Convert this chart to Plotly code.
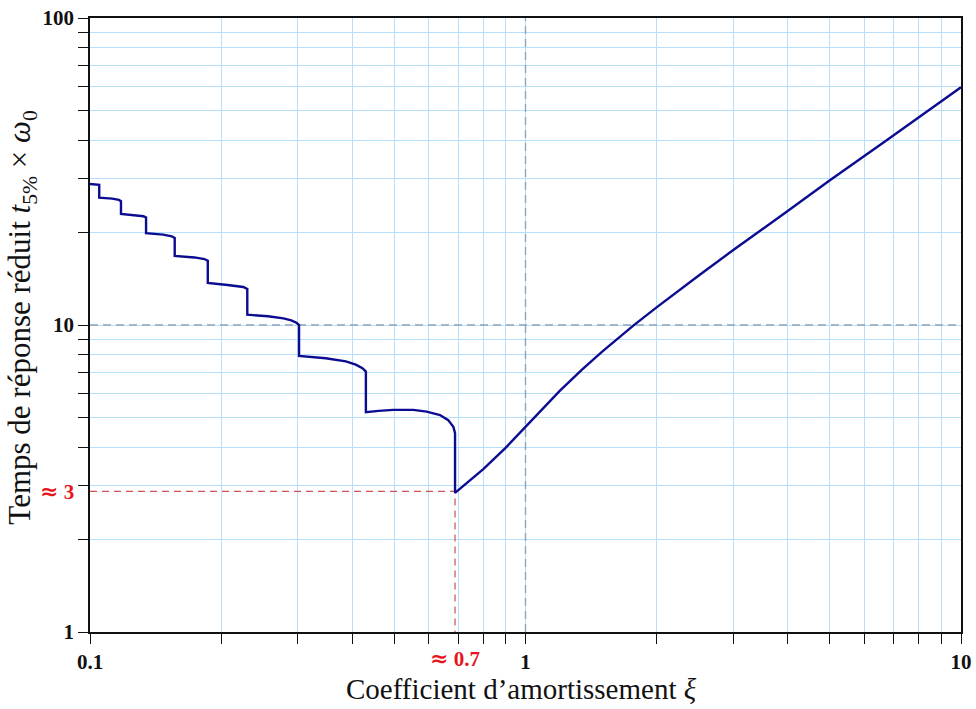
import math
import plotly.graph_objects as go

# Reduced 5 % response time of a second-order system vs damping ratio
XI = [0.1, 0.105,
      0.105, 0.1125, 0.1165, 0.1178,
      0.1178, 0.1276, 0.1327, 0.1345,
      0.1345, 0.1473, 0.1541, 0.1565,
      0.1565, 0.1738, 0.1831, 0.1864,
      0.1864, 0.2070, 0.2249, 0.2297,
      0.2297, 0.2563, 0.2781, 0.2899, 0.2979, 0.302,
      0.302, 0.3478, 0.3868, 0.4077, 0.4223, 0.430,
      0.430, 0.460, 0.497, 0.5525, 0.593, 0.6364, 0.6646, 0.6828, 0.689,
      0.689, 0.75, 0.80, 0.90, 1.0, 1.1, 1.2, 1.35, 1.5, 1.768, 2.0,
      2.5, 3.0, 4.0, 5.0, 6.75, 10.0]
T_RED = [28.8, 28.6,
         26.0, 25.8, 25.55, 25.3,
         23.0, 22.8, 22.6, 22.4,
         19.9, 19.7, 19.45, 19.2,
         16.8, 16.6, 16.4, 16.2,
         13.7, 13.5, 13.3, 13.1,
         10.8, 10.68, 10.51, 10.35, 10.17, 10.0,
         7.93, 7.79, 7.61, 7.43, 7.23, 7.05,
         5.20, 5.25, 5.29, 5.29, 5.22, 5.09, 4.90, 4.66, 4.44,
         2.84, 3.13, 3.39, 3.98, 4.67, 5.39, 6.11, 7.17, 8.19, 9.95, 11.41,
         14.5, 17.55, 23.5, 29.6, 40.0, 59.5]

# Optimum (fastest response)
XI_OPT = 0.689
T_OPT = 2.87

X_RANGE = [0.1, 10]
Y_RANGE = [1, 100]
X_MAJOR = [0.1, 1, 10]
X_MAJOR_TEXT = ["0.1", "1", "10"]
Y_MAJOR = [1, 10, 100]
Y_MAJOR_TEXT = ["1", "10", "100"]

SERIF = "Liberation Serif"
GRID = "#b6dffd"
CURVE = "#0c0c92"
RED = "#e8141c"
RED_DASH = "#d05050"
REF_DASH = "#8da5b8"

x_minor = [m * 10.0 ** k for k in (-1, 0) for m in range(2, 10)]
y_minor = [m * 10.0 ** k for k in (0, 1) for m in range(2, 10)]

APPROX = '<span style="font-family:DejaVu Serif;font-size:22px">≈</span>'

fig = go.Figure()

# dashed reference lines at xi = 1 and T = 10
fig.add_trace(go.Scatter(x=[1, 1], y=Y_RANGE, mode="lines",
                         line=dict(color=REF_DASH, width=1.4, dash="8px,5px"),
                         hoverinfo="skip", showlegend=False))
fig.add_trace(go.Scatter(x=X_RANGE, y=[10, 10], mode="lines",
                         line=dict(color=REF_DASH, width=1.4, dash="8px,5px"),
                         hoverinfo="skip", showlegend=False))

# optimum projections onto both axes
fig.add_trace(go.Scatter(x=[X_RANGE[0], XI_OPT, XI_OPT], y=[T_OPT, T_OPT, Y_RANGE[0]],
                         mode="lines",
                         line=dict(color=RED_DASH, width=1.2, dash="7px,5px"),
                         hoverinfo="skip", showlegend=False))

fig.add_trace(go.Scatter(x=XI, y=T_RED, mode="lines",
                         line=dict(color=CURVE, width=2.4),
                         showlegend=False))

tick_style = dict(ticks="outside", ticklen=10, tickcolor="#111", tickwidth=1.2)
grid_style = dict(showgrid=True, gridcolor=GRID, gridwidth=1.2)

axis_common = dict(
    type="log", automargin=False,
    showline=True, linecolor="#111", linewidth=1.5, mirror=True,
    zeroline=False,
    tickfont=dict(family=SERIF, size=21, color="#111"),
    **tick_style, **grid_style,
)

fig.update_xaxes(range=[math.log10(X_RANGE[0]), math.log10(X_RANGE[1])],
                 tickmode="array", tickvals=X_MAJOR,
                 ticktext=["<b>" + t + "</b>" for t in X_MAJOR_TEXT],
                 tickangle=0,
                 minor=dict(tickmode="array", tickvals=x_minor, **tick_style, **grid_style),
                 **axis_common)
fig.update_yaxes(range=[math.log10(Y_RANGE[0]), math.log10(Y_RANGE[1])],
                 tickmode="array", tickvals=Y_MAJOR,
                 ticktext=["<b>" + t + "</b>" for t in Y_MAJOR_TEXT],
                 minor=dict(tickmode="array", tickvals=y_minor, **tick_style, **grid_style),
                 **axis_common)

# labels of the optimum on both axes (log axes take log10 positions)
fig.add_annotation(x=math.log10(X_RANGE[0]), y=math.log10(T_OPT), xref="x", yref="y",
                   showarrow=False, text="<b>" + APPROX + " 3</b>",
                   xanchor="right", yanchor="middle",
                   xshift=-14, font=dict(family=SERIF, size=21, color=RED))
fig.add_annotation(x=math.log10(XI_OPT), y=0, xref="x", yref="paper", showarrow=False,
                   text="<b>" + APPROX + " 0.7</b>", xanchor="center", yanchor="top",
                   yshift=-11, font=dict(family=SERIF, size=21, color=RED))

# axis titles
fig.add_annotation(x=0.495, y=0, xref="paper", yref="paper", showarrow=False,
                   text="Coefficient d’amortissement <i>ξ</i>",
                   xanchor="center", yanchor="top", yshift=-39,
                   font=dict(family=SERIF, size=29, color="#111"))
fig.add_annotation(x=0, y=0.512, xref="paper", yref="paper", showarrow=False,
                   text="Temps de réponse réduit <i>t</i><sub>5%</sub> × <i>ω</i><sub>0</sub>",
                   textangle=-90, xanchor="center", yanchor="middle", xshift=-68,
                   font=dict(family=SERIF, size=31, color="#111"))

fig.update_layout(
    width=976, height=709,
    margin=dict(l=90, r=15, t=18, b=77),
    paper_bgcolor="white", plot_bgcolor="white",
)

fig.write_html("out.html")
